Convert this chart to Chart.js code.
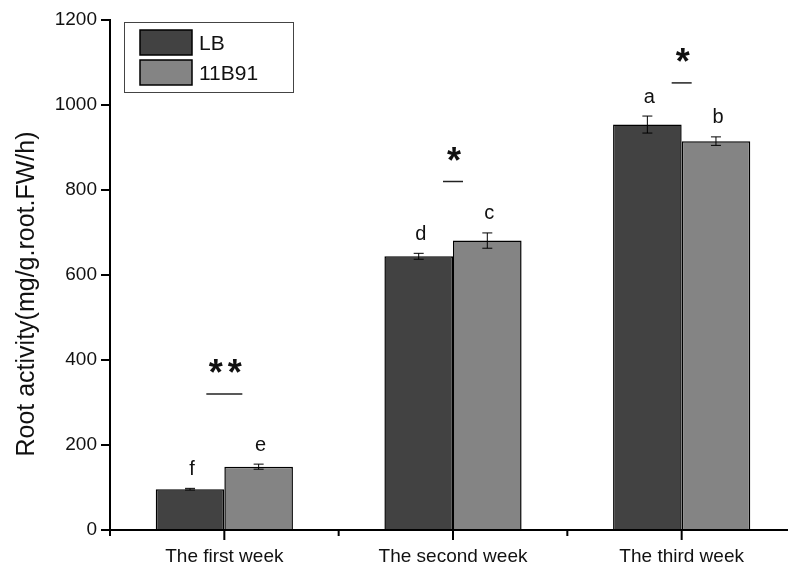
<!DOCTYPE html>
<html lang="en">
<head>
<meta charset="UTF-8">
<title>Root activity</title>
<script src="https://cdn.jsdelivr.net/npm/chart.js"></script>
<style>
    body { margin: 0; background: #fff; overflow: hidden; }
    #wrap { width: 800px; height: 567px; }
</style>
</head>
<body>
<div id="wrap"><canvas id="chart" width="800" height="567"></canvas></div>
<script>
// data
const weeks = ['The first week', 'The second week', 'The third week'];
const lbValues = [96, 644, 954];
const lbErrors = [2, 7, 20];
const b91Values = [149, 681, 915];
const b91Errors = [6, 18, 10];
const lbLetters = ['f', 'd', 'a'];
const b91Letters = ['e', 'c', 'b'];
const sigMarks = ['**', '*', '*'];
const sigLevels = [320, 820, 1052];
const yTicks = [0, 200, 400, 600, 800, 1000, 1200];
const yTitle = 'Root activity(mg/g.root.FW/h)';

const FONT = 'Liberation Sans, Arial, sans-serif';

// error bars, letters, significance marks, x ticks, legend, y title
const extras = {
    id: 'extras',
    afterDatasetsDraw(chart) {
        const ctx = chart.ctx;
        const x = chart.scales.x, y = chart.scales.y;
        const errs = [lbErrors, b91Errors];
        const letters = [lbLetters, b91Letters];
        ctx.save();
        chart.data.datasets.forEach((ds, di) => {
            chart.getDatasetMeta(di).data.forEach((bar, i) => {
                const v = ds.data[i], e = errs[di][i];
                const top = y.getPixelForValue(v + e), bot = y.getPixelForValue(v - e);
                ctx.strokeStyle = '#000';
                ctx.lineWidth = 1;
                ctx.beginPath();
                ctx.moveTo(bar.x, top); ctx.lineTo(bar.x, bot);
                ctx.moveTo(bar.x - 5, top); ctx.lineTo(bar.x + 5, top);
                ctx.moveTo(bar.x - 5, bot); ctx.lineTo(bar.x + 5, bot);
                ctx.stroke();
                ctx.fillStyle = '#111';
                ctx.font = '20px ' + FONT;
                ctx.textAlign = 'center';
                ctx.textBaseline = 'middle';
                ctx.fillText(letters[di][i], bar.x + 2, top - 19);
            });
        });
        // significance
        weeks.forEach((w, i) => {
            const cx = x.getPixelForValue(i);
            const ly = y.getPixelForValue(sigLevels[i]);
            const n = sigMarks[i].length;
            const half = n > 1 ? 18 : 10;
            ctx.strokeStyle = '#222';
            ctx.lineWidth = 1.5;
            ctx.beginPath();
            ctx.moveTo(cx - half, ly); ctx.lineTo(cx + half, ly);
            ctx.stroke();
            ctx.fillStyle = '#111';
            ctx.font = 'bold 36px ' + FONT;
            ctx.textAlign = 'center';
            ctx.textBaseline = 'alphabetic';
            for (let k = 0; k < n; k++) {
                ctx.fillText('*', cx + 1 + (k - (n - 1) / 2) * 19, ly - 9);
            }
        });
        // x axis ticks
        const area = chart.chartArea;
        const step = x.getPixelForValue(1) - x.getPixelForValue(0);
        ctx.strokeStyle = '#000';
        ctx.lineWidth = 2;
        ctx.beginPath();
        weeks.forEach((w, i) => {
            const cx = x.getPixelForValue(i);
            ctx.moveTo(cx, area.bottom); ctx.lineTo(cx, area.bottom + 10);
            const bx = cx - step / 2;
            ctx.moveTo(bx, area.bottom); ctx.lineTo(bx, area.bottom + 6);
        });
        ctx.stroke();
        // legend
        const lx = area.left + 14, ly0 = area.top + 2;
        ctx.strokeStyle = '#444';
        ctx.lineWidth = 1;
        ctx.strokeRect(lx + 0.5, ly0 + 0.5, 169, 70);
        chart.data.datasets.forEach((ds, di) => {
            const sy = ly0 + 8 + di * 30;
            ctx.fillStyle = ds.backgroundColor;
            ctx.fillRect(lx + 16, sy, 52, 25);
            ctx.strokeStyle = '#000';
            ctx.lineWidth = 1.5;
            ctx.strokeRect(lx + 16, sy, 52, 25);
            ctx.fillStyle = '#111';
            ctx.font = '21px ' + FONT;
            ctx.textAlign = 'left';
            ctx.textBaseline = 'middle';
            ctx.fillText(ds.label, lx + 75, sy + 14);
        });
        // y title
        ctx.translate(27, 294);
        ctx.rotate(-Math.PI / 2);
        ctx.fillStyle = '#111';
        ctx.font = '25px ' + FONT;
        ctx.textAlign = 'center';
        ctx.textBaseline = 'middle';
        ctx.fillText(yTitle, 0, 0);
        ctx.restore();
    }
};

new Chart(document.getElementById('chart'), {
    type: 'bar',
    data: {
        labels: weeks,
        datasets: [
            { label: 'LB', data: lbValues, backgroundColor: '#424242', borderColor: '#000', borderWidth: 1.5 },
            { label: '11B91', data: b91Values, backgroundColor: '#848484', borderColor: '#000', borderWidth: 1.5 }
        ]
    },
    options: {
        responsive: false,
        animation: false,
        layout: { padding: { top: 20, right: 4, left: 0, bottom: 0 } },
        datasets: { bar: { categoryPercentage: 0.6, barPercentage: 1 } },
        plugins: { legend: { display: false }, tooltip: { enabled: false } },
        scales: {
            x: {
                border: { display: true, color: '#000', width: 2 },
                grid: { display: false },
                ticks: { color: '#111', font: { family: FONT, size: 19 }, padding: 7 },
                afterFit: s => { s.height = 37; }
            },
            y: {
                min: 0, max: 1200,
                afterBuildTicks: s => { s.ticks = yTicks.map(v => ({ value: v })); },
                border: { display: true, color: '#000', width: 2 },
                grid: { drawOnChartArea: false, drawTicks: true, tickLength: 9, color: '#000', lineWidth: 2 },
                ticks: { color: '#111', font: { family: FONT, size: 19 }, padding: 4, callback: v => String(v) },
                afterFit: s => { s.width = 110; }
            }
        }
    },
    plugins: [extras]
});
</script>
</body>
</html>
